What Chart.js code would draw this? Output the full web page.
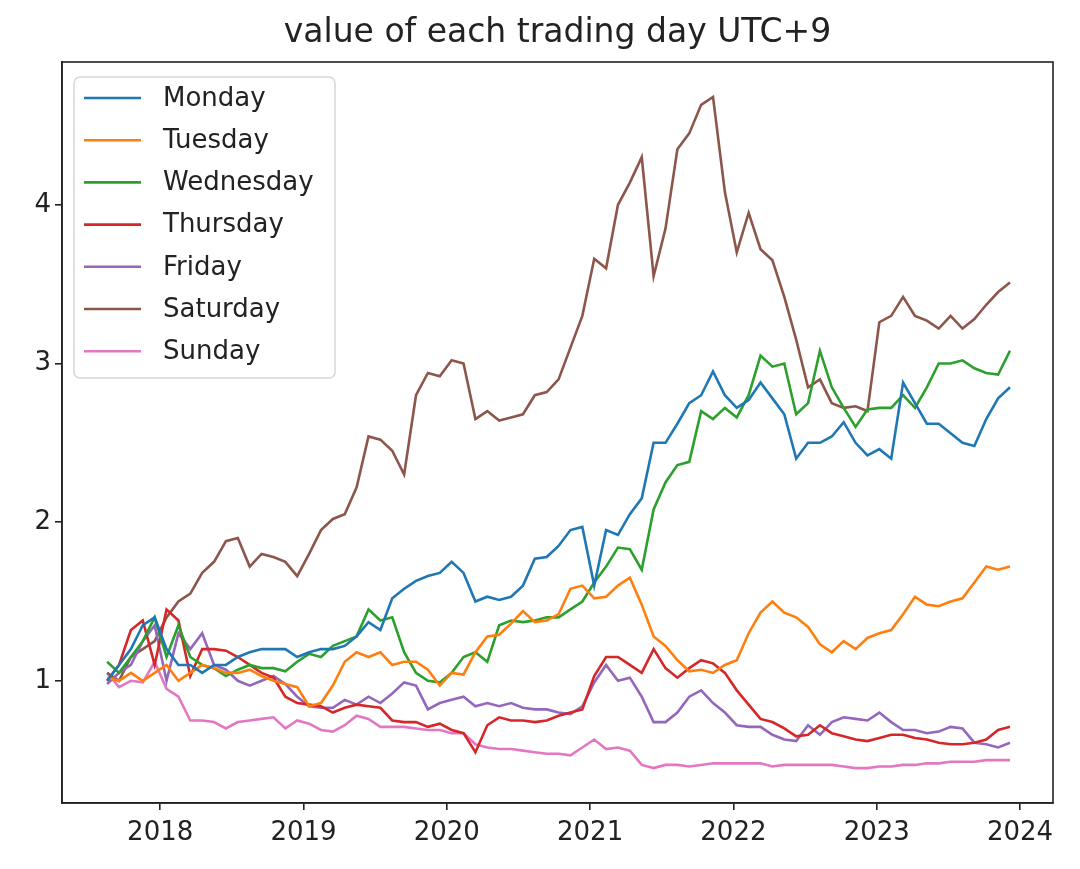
<!DOCTYPE html>
<html>
<head>
<meta charset="utf-8">
<script src="https://cdn.jsdelivr.net/npm/chart.js@4.4.0/dist/chart.umd.min.js"></script>
<style>
  html, body { margin: 0; padding: 0; background: #fff; }
</style>
</head>
<body>
<canvas id="myChart" width="1080" height="869"></canvas>
<script>
// sample dates: roughly monthly, mid Aug 2017 -> early Dec 2023 (decimal years)
const firstDay = 2017.63;
const lastDay = 2023.93;
const nPoints = 77;
const dates = [];
for (let i = 0; i < nPoints; i++) dates.push(firstDay + i * (lastDay - firstDay) / (nPoints - 1));

const dayNames = ['Monday', 'Tuesday', 'Wednesday', 'Thursday', 'Friday', 'Saturday', 'Sunday'];
const dayColors = ['#1f77b4', '#ff7f0e', '#2ca02c', '#d62728', '#9467bd', '#8c564b', '#e377c2'];
const xTicks = [2018, 2019, 2020, 2021, 2022, 2023, 2024];
const yTicks = [1, 2, 3, 4];

const monday = [1.0,1.1,1.2,1.35,1.4,1.2,1.1,1.1,1.05,1.1,1.1,1.15,1.18,1.2,1.2,1.2,1.15,1.18,1.2,1.2,
  1.22,1.28,1.37,1.32,1.52,1.58,1.63,1.66,1.68,1.75,1.68,1.5,1.53,1.51,1.53,1.6,1.77,1.78,1.85,1.95,
  1.97,1.6,1.95,1.92,2.05,2.15,2.5,2.5,2.62,2.75,2.8,2.95,2.8,2.72,2.77,2.88,2.78,2.68,2.4,2.5,
  2.5,2.54,2.63,2.5,2.42,2.46,2.4,2.88,2.75,2.62,2.62,2.56,2.5,2.48,2.65,2.78,2.85];
const tuesday = [1.02,1.0,1.05,1.0,1.05,1.1,1.0,1.05,1.1,1.08,1.05,1.05,1.07,1.03,1.0,0.98,0.96,0.84,0.86,0.97,
  1.12,1.18,1.15,1.18,1.1,1.12,1.12,1.07,0.97,1.05,1.04,1.18,1.28,1.29,1.36,1.44,1.37,1.38,1.42,1.58,
  1.6,1.52,1.53,1.6,1.65,1.48,1.28,1.22,1.13,1.06,1.07,1.05,1.1,1.13,1.3,1.43,1.5,1.43,1.4,1.34,
  1.23,1.18,1.25,1.2,1.27,1.3,1.32,1.42,1.53,1.48,1.47,1.5,1.52,1.62,1.72,1.7,1.72];
const wednesday = [1.12,1.05,1.15,1.25,1.4,1.15,1.35,1.15,1.1,1.08,1.03,1.07,1.1,1.08,1.08,1.06,1.12,1.17,1.15,1.22,
  1.25,1.28,1.45,1.38,1.4,1.18,1.05,1.0,0.99,1.05,1.15,1.18,1.12,1.35,1.38,1.37,1.38,1.4,1.4,1.45,
  1.5,1.62,1.72,1.84,1.83,1.7,2.08,2.25,2.36,2.38,2.7,2.65,2.72,2.66,2.8,3.05,2.98,3.0,2.68,2.75,
  3.08,2.85,2.72,2.6,2.71,2.72,2.72,2.8,2.72,2.85,3.0,3.0,3.02,2.97,2.94,2.93,3.08];
const thursday = [1.0,1.1,1.32,1.38,1.1,1.45,1.38,1.03,1.2,1.2,1.19,1.15,1.1,1.05,1.02,0.9,0.86,0.85,0.84,0.8,
  0.83,0.85,0.84,0.83,0.75,0.74,0.74,0.71,0.73,0.69,0.67,0.55,0.72,0.77,0.75,0.75,0.74,0.75,0.78,0.8,
  0.82,1.03,1.15,1.15,1.1,1.05,1.2,1.08,1.02,1.08,1.13,1.11,1.05,0.94,0.85,0.76,0.74,0.7,0.65,0.66,
  0.72,0.67,0.65,0.63,0.62,0.64,0.66,0.66,0.64,0.63,0.61,0.6,0.6,0.61,0.63,0.69,0.71];
const friday = [0.98,1.05,1.1,1.25,1.35,1.0,1.3,1.2,1.3,1.1,1.07,1.0,0.97,1.0,1.03,0.98,0.9,0.84,0.83,0.83,
  0.88,0.85,0.9,0.86,0.92,0.99,0.97,0.82,0.86,0.88,0.9,0.84,0.86,0.84,0.86,0.83,0.82,0.82,0.8,0.79,
  0.84,0.99,1.1,1.0,1.02,0.9,0.74,0.74,0.8,0.9,0.94,0.86,0.8,0.72,0.71,0.71,0.66,0.63,0.62,0.72,
  0.66,0.74,0.77,0.76,0.75,0.8,0.74,0.69,0.69,0.67,0.68,0.71,0.7,0.61,0.6,0.58,0.61];
const saturday = [1.05,1.0,1.15,1.2,1.25,1.4,1.5,1.55,1.68,1.75,1.88,1.9,1.72,1.8,1.78,1.75,1.66,1.8,1.95,2.02,
  2.05,2.22,2.54,2.52,2.45,2.3,2.8,2.94,2.92,3.02,3.0,2.65,2.7,2.64,2.66,2.68,2.8,2.82,2.9,3.1,
  3.3,3.66,3.6,4.0,4.14,4.3,3.55,3.85,4.35,4.45,4.63,4.68,4.08,3.7,3.95,3.72,3.65,3.42,3.15,2.85,
  2.9,2.75,2.72,2.73,2.7,3.26,3.3,3.42,3.3,3.27,3.22,3.3,3.22,3.28,3.37,3.45,3.51];
const sunday = [1.05,0.96,1.0,0.99,1.12,0.95,0.9,0.75,0.75,0.74,0.7,0.74,0.75,0.76,0.77,0.7,0.75,0.73,0.69,0.68,
  0.72,0.78,0.76,0.71,0.71,0.71,0.7,0.69,0.69,0.67,0.67,0.6,0.58,0.57,0.57,0.56,0.55,0.54,0.54,0.53,
  0.58,0.63,0.57,0.58,0.56,0.47,0.45,0.47,0.47,0.46,0.47,0.48,0.48,0.48,0.48,0.48,0.46,0.47,0.47,0.47,
  0.47,0.47,0.46,0.45,0.45,0.46,0.46,0.47,0.47,0.48,0.48,0.49,0.49,0.49,0.5,0.5,0.5];

const allSeries = [monday, tuesday, wednesday, thursday, friday, saturday, sunday];

const fontName = '"DejaVu Sans", sans-serif';

// matplotlib-like frame, title and legend drawn by hand
const frameAndLegend = {
  id: 'frameAndLegend',
  afterDatasetsDraw(chart) {
    const ctx = chart.ctx;
    const a = chart.chartArea;
    ctx.save();
    ctx.strokeStyle = '#222';
    ctx.lineWidth = 1.6;
    ctx.strokeRect(a.left, a.top, a.right - a.left, a.bottom - a.top);

    ctx.fillStyle = '#222';
    ctx.font = '33px ' + fontName;
    ctx.textAlign = 'center';
    ctx.textBaseline = 'middle';
    ctx.fillText('value of each trading day UTC+9', (a.left + a.right) / 2, 33);

    // legend box
    const x0 = 74, y0 = 77, w = 261, h = 301;
    ctx.fillStyle = 'rgba(255,255,255,0.8)';
    ctx.strokeStyle = '#d6d6d6';
    ctx.lineWidth = 1.5;
    ctx.beginPath();
    ctx.roundRect(x0, y0, w, h, 6);
    ctx.fill();
    ctx.stroke();

    ctx.textAlign = 'left';
    ctx.font = '26px ' + fontName;
    chart.data.datasets.forEach((ds, i) => {
      const y = 98 + i * 42.2;
      ctx.strokeStyle = ds.borderColor;
      ctx.lineWidth = 2.6;
      ctx.beginPath();
      ctx.moveTo(84, y);
      ctx.lineTo(141, y);
      ctx.stroke();
      ctx.fillStyle = '#222';
      ctx.fillText(ds.label, 163, y + 1);
    });
    ctx.restore();
  }
};

new Chart(document.getElementById('myChart').getContext('2d'), {
  type: 'line',
  data: {
    datasets: dayNames.map((name, k) => ({
      label: name,
      data: dates.map((d, i) => ({ x: d, y: allSeries[k][i] })),
      borderColor: dayColors[k],
      backgroundColor: dayColors[k],
      borderWidth: 2.6,
      pointRadius: 0,
      tension: 0,
      fill: false
    }))
  },
  options: {
    responsive: false,
    animation: false,
    devicePixelRatio: 1,
    layout: { padding: { top: 62, right: 27, left: 0, bottom: 0 } },
    plugins: {
      legend: { display: false },
      title: { display: false },
      tooltip: { enabled: false }
    },
    scales: {
      x: {
        type: 'linear',
        min: 2017.315,
        max: 2024.23,
        afterBuildTicks: (scale) => { scale.ticks = xTicks.map(v => ({ value: v })); },
        afterFit: (scale) => { scale.height = 66; },
        grid: { drawOnChartArea: false, drawTicks: true, tickLength: 7, color: '#222', lineWidth: 1.6 },
        border: { display: true, color: '#222', width: 1.6 },
        ticks: {
          color: '#222',
          font: { family: fontName, size: 26 },
          padding: 8,
          maxRotation: 0,
          callback: (v) => String(v)
        }
      },
      y: {
        type: 'linear',
        min: 0.23,
        max: 4.9,
        afterBuildTicks: (scale) => { scale.ticks = yTicks.map(v => ({ value: v })); },
        afterFit: (scale) => { scale.width = 62; },
        grid: { drawOnChartArea: false, drawTicks: true, tickLength: 7, color: '#222', lineWidth: 1.6 },
        border: { display: true, color: '#222', width: 1.6 },
        ticks: {
          color: '#222',
          font: { family: fontName, size: 26 },
          padding: 4,
          callback: (v) => String(v)
        }
      }
    }
  },
  plugins: [frameAndLegend]
});
</script>
</body>
</html>
